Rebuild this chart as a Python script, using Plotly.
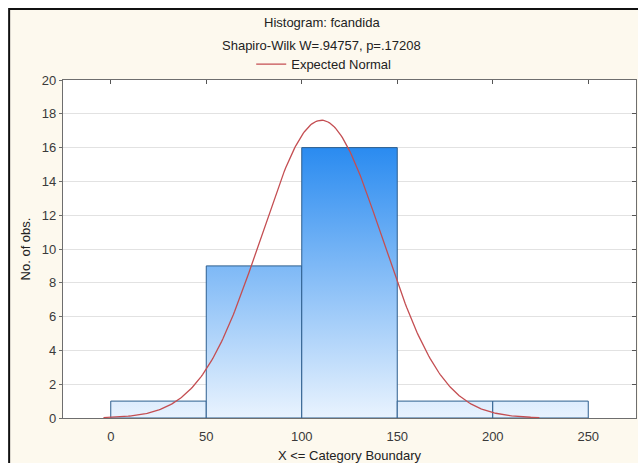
import numpy as np
import plotly.graph_objects as go

# ---- data ----
bin_left = [0, 50, 100, 150, 200]
bin_right = [50, 100, 150, 200, 250]
counts = [1, 9, 16, 1, 1]
x_ticks = [0, 50, 100, 150, 200, 250]
y_ticks = [0, 2, 4, 6, 8, 10, 12, 14, 16, 18, 20]

# expected normal fitted to the sample
norm_mean = 110.3
norm_sd = 31.7
norm_span_sd = 3.6

title_1 = "Histogram: fcandida"
title_2 = "Shapiro-Wilk W=.94757, p=.17208"
legend_name = "Expected Normal"
x_title = "X <= Category Boundary"
y_title = "No. of obs."

FONT = "Liberation Sans, Arial, sans-serif"
LIGHT = "#E9F3FE"
DARK = "#2A8BF0"

n_obs = sum(counts)
bin_w = bin_right[0] - bin_left[0]

fig = go.Figure()

for l, r, c in zip(bin_left, bin_right, counts):
    fig.add_trace(go.Scatter(
        x=[l, l, r, r, l], y=[0, c, c, 0, 0],
        mode="lines", fill="toself",
        line=dict(color="#2D5E8E", width=1),
        fillgradient=dict(type="vertical",
                          colorscale=[[0, LIGHT], [1, DARK]],
                          start=0, stop=max(counts)),
        showlegend=False, hoverinfo="skip"))

xs = np.linspace(norm_mean - norm_span_sd * norm_sd,
                 norm_mean + norm_span_sd * norm_sd, 300)
ys = n_obs * bin_w / (norm_sd * np.sqrt(2 * np.pi)) * np.exp(-0.5 * ((xs - norm_mean) / norm_sd) ** 2)
fig.add_trace(go.Scatter(x=xs, y=ys, mode="lines", name=legend_name,
                         line=dict(color="#C44E52", width=1.3),
                         showlegend=True))

# invisible trace carrying the mirrored (inside-tick) axes
fig.add_trace(go.Scatter(x=[0], y=[0], xaxis="x2", yaxis="y2", mode="markers",
                         marker=dict(opacity=0), showlegend=False, hoverinfo="skip"))

XR = [-25, 275]
YR = [0, 20]

fig.update_layout(
    width=638, height=463,
    margin=dict(l=63, r=2, t=80, b=45, autoexpand=False),
    paper_bgcolor="white", plot_bgcolor="white",
    font=dict(family=FONT, size=12, color="#333333"),
    xaxis=dict(range=XR, tickvals=x_ticks, showgrid=False, zeroline=False, automargin=False,
               showline=True, linecolor="#6E6E6E", linewidth=1.2, mirror=True,
               ticks="", ticklabelstandoff=6, tickfont=dict(size=13, color="#3A3A3A"),
               title=dict(text=x_title, font=dict(size=13, color="#222222"), standoff=8)),
    yaxis=dict(range=YR, tickvals=y_ticks, showgrid=True, gridcolor="#E2E2E2", gridwidth=1,
               zeroline=False, showline=True, linecolor="#6E6E6E", linewidth=1.2, mirror=True,
               automargin=False,
               ticks="outside", ticklen=3, tickcolor="#6E6E6E",
               tickfont=dict(size=13, color="#3A3A3A"),
               title=dict(text=y_title, font=dict(size=13, color="#222222"), standoff=8)),
    xaxis2=dict(range=XR, tickvals=x_ticks, overlaying="x", side="top", anchor="y",
                showgrid=False, zeroline=False, showticklabels=False, automargin=False,
                ticks="inside", ticklen=4, tickcolor="#555555"),
    yaxis2=dict(range=YR, tickvals=y_ticks, overlaying="y", side="right", anchor="x",
                showgrid=False, zeroline=False, showticklabels=False, automargin=False,
                ticks="inside", ticklen=4, tickcolor="#555555"),
    showlegend=True,
    legend=dict(orientation="h", x=0.455, xanchor="center", y=1.047, yanchor="middle",
                bgcolor="rgba(0,0,0,0)", font=dict(size=13, color="#222222"),
                itemwidth=30),
    shapes=[
        dict(type="rect", xref="paper", yref="paper",
             x0=-0.094, x1=1.02, y0=-0.3, y1=1.21,
             fillcolor="#FDF9EE", line=dict(color="#111111", width=2),
             layer="below"),
        dict(type="rect", xref="paper", yref="paper",
             x0=0, x1=1, y0=0, y1=1,
             fillcolor="white", line=dict(width=0),
             layer="below"),
    ],
    annotations=[
        dict(text=title_1, xref="paper", yref="paper", x=0.452, y=(418 - 23) / 338,
             showarrow=False, xanchor="center", yanchor="middle",
             font=dict(size=13, color="#222222")),
        dict(text=title_2, xref="paper", yref="paper", x=0.452, y=(418 - 45) / 338,
             showarrow=False, xanchor="center", yanchor="middle",
             font=dict(size=13, color="#222222")),
    ],
)

fig.write_html(
    "out.html",
    config={"displayModeBar": False},
    post_script="document.body.style.margin='0px';document.body.style.overflow='hidden';",
)
